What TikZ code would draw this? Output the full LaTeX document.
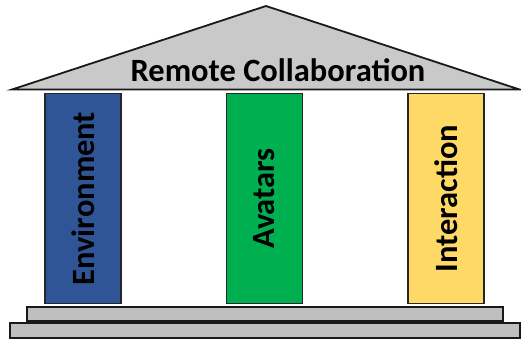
\documentclass[tikz,border=0pt]{standalone}
\usepackage{fontspec}
\setmainfont{Carlito}
\definecolor{roofgray}{HTML}{C9C9C9}
\definecolor{stepgray}{HTML}{BFBFBF}
\definecolor{pblue}{HTML}{2F5597}
\definecolor{pgreen}{HTML}{00B050}
\definecolor{pyellow}{HTML}{FFD966}
\begin{document}
\begin{tikzpicture}[x=1pt,y=-1pt,
  pillar/.style={draw=black!85, line width=1.5pt, minimum width=76pt, minimum height=210pt, inner sep=0pt},
  ptext/.style={font=\bfseries\fontsize{32.5}{34}\selectfont, rotate=90, text=black},
  stepbox/.style={draw=black!90, fill=stepgray, line width=2pt, inner sep=0pt}]
\useasboundingbox (0,0) rectangle (521,341);
% roof
\draw[fill=roofgray, draw=black!90, line width=1.8pt, line join=miter] (12,89.5) -- (266,6) -- (519.5,89.5) -- cycle;
\node[font=\bfseries\fontsize{32.5}{34}\selectfont, anchor=base] (title) at (278,81) {Remote Collaboration};
% pillars
\node[pillar, fill=pblue] (p1) at (83,198.5) {};
\node[pillar, fill=pgreen] (p2) at (264.5,198.5) {};
\node[pillar, fill=pyellow] (p3) at (446,198.5) {};
\node[ptext] (t1) at (p1) {Environment};
\node[ptext] (t2) at (p2) {Avatars};
\node[ptext] (t3) at (p3) {Interaction};
% steps
\node[stepbox, minimum width=476pt, minimum height=14pt] (s1) at (264.5,313.5) {};
\node[stepbox, minimum width=510pt, minimum height=15pt] (s2) at (265,330.5) {};
\end{tikzpicture}
\end{document}
